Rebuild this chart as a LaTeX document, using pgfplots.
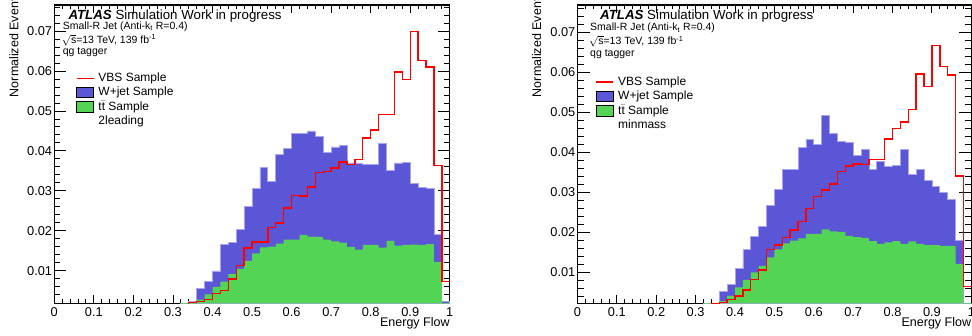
\documentclass[border=0pt]{standalone}
\usepackage{fontspec}
\setmainfont{Liberation Sans}
\usepackage{pgfplots}
\usepackage{pgfplotstable}
\pgfplotsset{compat=1.18}

\definecolor{wjblue}{RGB}{90,86,214}
\definecolor{wjedge}{RGB}{168,165,238}
\definecolor{ttgreen}{RGB}{84,212,84}
\definecolor{vbsred}{RGB}{255,0,0}
\newcommand\fs[1]{\fontsize{#1}{#1}\selectfont}

% columns: bin left edge, W+jet, ttbar, VBS
\pgfplotstableread{
x    b      g      r
0.32 0      0      0
0.34 0.0023 0      0.0021
0.36 0.0056 0.0028 0.0023
0.38 0.0073 0.0041 0.0028
0.40 0.0100 0.0060 0.0043
0.42 0.0167 0.0073 0.0051
0.44 0.0171 0.0092 0.0080
0.46 0.0203 0.0105 0.0113
0.48 0.0262 0.0125 0.0157
0.50 0.0307 0.0144 0.0172
0.52 0.0359 0.0159 0.0172
0.54 0.0323 0.0161 0.0208
0.56 0.0392 0.0168 0.0220
0.58 0.0407 0.0178 0.0257
0.60 0.0443 0.0178 0.0288
0.62 0.0444 0.0190 0.0287
0.64 0.0450 0.0186 0.0310
0.66 0.0436 0.0185 0.0346
0.68 0.0397 0.0178 0.0348
0.70 0.0410 0.0174 0.0357
0.72 0.0413 0.0171 0.0372
0.74 0.0370 0.0160 0.0366
0.76 0.0369 0.0153 0.0378
0.78 0.0367 0.0165 0.0432
0.80 0.0367 0.0165 0.0452
0.82 0.0419 0.0158 0.0491
0.84 0.0352 0.0175 0.0491
0.86 0.0370 0.0163 0.0597
0.88 0.0372 0.0165 0.0578
0.90 0.0319 0.0166 0.0698
0.92 0.0309 0.0165 0.0626
0.94 0.0307 0.0167 0.0610
0.96 0.0191 0.0122 0.0363
0.98 0.0023 0      0.0073
1.00 0.0023 0      0.0073
}\tabL

\pgfplotstableread{
x    b      g      r
0.32 0      0      0
0.34 0      0      0.0022
0.36 0.0052 0.0028 0.0024
0.38 0.0070 0.0041 0.0032
0.40 0.0110 0.0062 0.0041
0.42 0.0156 0.0081 0.0056
0.44 0.0189 0.0100 0.0082
0.46 0.0214 0.0116 0.0106
0.48 0.0268 0.0137 0.0157
0.50 0.0306 0.0157 0.0168
0.52 0.0357 0.0172 0.0187
0.54 0.0357 0.0179 0.0206
0.56 0.0412 0.0185 0.0227
0.58 0.0433 0.0196 0.0260
0.60 0.0420 0.0196 0.0289
0.62 0.0493 0.0207 0.0306
0.64 0.0447 0.0202 0.0321
0.66 0.0428 0.0201 0.0352
0.68 0.0424 0.0191 0.0366
0.70 0.0391 0.0188 0.0371
0.72 0.0407 0.0186 0.0370
0.74 0.0356 0.0178 0.0382
0.76 0.0378 0.0171 0.0382
0.78 0.0364 0.0175 0.0433
0.80 0.0366 0.0178 0.0460
0.82 0.0407 0.0171 0.0476
0.84 0.0345 0.0177 0.0507
0.86 0.0356 0.0171 0.0596
0.88 0.0329 0.0168 0.0564
0.90 0.0314 0.0168 0.0667
0.92 0.0299 0.0166 0.0614
0.94 0.0281 0.0166 0.0593
0.96 0.0179 0.0121 0.0341
0.98 0      0      0.0064
1.00 0      0      0.0064
}\tabR

\pgfplotsset{
  boxlegend/.style={legend image code/.code={\fill[##1] (0pt,-4.6pt) rectangle (17pt,5.6pt);}},
  histax/.style={
    scale only axis, anchor=south west,
    width=395.5pt, height=298.3pt,
    xmin=0, xmax=1,
    xtick={0,0.1,0.2,0.3,0.4,0.5,0.6,0.7,0.8,0.9,1},
    xticklabels={0,0.1,0.2,0.3,0.4,0.5,0.6,0.7,0.8,0.9,1},
    minor xtick={0.02,0.04,0.06,0.08,0.12,0.14,0.16,0.18,0.22,0.24,0.26,0.28,0.32,0.34,0.36,0.38,0.42,0.44,0.46,0.48,0.52,0.54,0.56,0.58,0.62,0.64,0.66,0.68,0.72,0.74,0.76,0.78,0.82,0.84,0.86,0.88,0.92,0.94,0.96,0.98},
    ytick={0.01,0.02,0.03,0.04,0.05,0.06,0.07},
    yticklabels={0.01,0.02,0.03,0.04,0.05,0.06,0.07},
    minor ytick={0.004,0.006,0.008,0.012,0.014,0.016,0.018,0.022,0.024,0.026,0.028,0.032,0.034,0.036,0.038,0.042,0.044,0.046,0.048,0.052,0.054,0.056,0.058,0.062,0.064,0.066,0.068,0.072,0.074,0.076},
    scaled ticks=false,
    tick align=inside, tick pos=both,
    axis line style={line width=1.1pt},
    every tick/.style={line width=0.9pt},
    xtick style={/pgfplots/major tick length=8pt, /pgfplots/minor tick length=4pt},
    ytick style={/pgfplots/major tick length=12pt, /pgfplots/minor tick length=6pt},
    tick label style={font=\fs{12.8}},
    xticklabel style={anchor=north, inner sep=0pt, yshift=-3.7pt},
    yticklabel style={anchor=east, inner sep=0pt, xshift=-2pt},
    xlabel={Energy Flow},
    xlabel style={at={(axis description cs:1,0)}, anchor=base east, inner sep=0pt, yshift=-23.7pt, font=\fs{12.5}},
    legend cell align=left,
    legend style={draw=none, fill=none, inner sep=0pt, outer sep=0pt, anchor=north west,
      font=\fs{12}, row sep=2.9pt,
      nodes={inner sep=0pt, text height=8.6pt, text depth=2.5pt},
      /tikz/every odd column/.append style={column sep=4pt}},
  }
}

\begin{document}
\begin{tikzpicture}
\useasboundingbox (0,0) rectangle (972pt,336pt);

% ---------------- left panel ----------------
\begin{axis}[histax, at={(54.3pt,32.7pt)}, ymin=0.0019, ymax=0.0765,
  legend style={at={(0.0548,0.7717)}}]
\addlegendimage{draw=vbsred, line width=1.4pt}
\addlegendentry{VBS Sample}
\addlegendimage{boxlegend, fill=wjblue}
\addlegendentry{W+jet Sample}
\addlegendimage{boxlegend, fill=ttgreen}
\addlegendentry{t$\bar{\hbox{t}}$ Sample}
\addlegendimage{empty legend}
\addlegendentry{2leading}
\addplot[const plot, fill=wjblue, draw=wjedge, line width=0.8pt, forget plot] table[x=x,y=b]{\tabL} \closedcycle;
\addplot[const plot, fill=ttgreen, draw=none, forget plot] table[x=x,y=g]{\tabL} \closedcycle;
\addplot[const plot, draw=vbsred, line width=1.4pt, forget plot] table[x=x,y=r]{\tabL};
\end{axis}

% ---------------- right panel ----------------
\begin{axis}[histax, at={(577.5pt,32.7pt)}, width=393.8pt, ymin=0.00225, ymax=0.0768,
  legend style={at={(0.0462,0.7606)}, row sep=3.3pt}]
\addlegendimage{draw=vbsred, line width=1.4pt}
\addlegendentry{VBS Sample}
\addlegendimage{boxlegend, fill=wjblue}
\addlegendentry{W+jet Sample}
\addlegendimage{boxlegend, fill=ttgreen}
\addlegendentry{t$\bar{\hbox{t}}$ Sample}
\addlegendimage{empty legend}
\addlegendentry{minmass}
\addplot[const plot, fill=wjblue, draw=wjedge, line width=0.8pt, forget plot] table[x=x,y=b]{\tabR} \closedcycle;
\addplot[const plot, fill=ttgreen, draw=none, forget plot] table[x=x,y=g]{\tabR} \closedcycle;
\addplot[const plot, draw=vbsred, line width=1.4pt, forget plot] table[x=x,y=r]{\tabR};
\end{axis}

% y-axis titles
\node[rotate=90, anchor=east, inner sep=0pt, font=\fs{12.5}] at (14pt,344pt) {Normalized Events};
\node[rotate=90, anchor=east, inner sep=0pt, font=\fs{12.5}] at (536.7pt,344pt) {Normalized Events};

% ATLAS labels, left
\node[anchor=base west, inner sep=0pt, font=\fs{13.3}] at (68.3pt,316.7pt) {\textbf{\textit{ATLAS}} Simulation Work in progress};
\node[anchor=base west, inner sep=0pt, font=\fs{10.5}] at (62.7pt,306.7pt) {Small-R Jet (Anti-k\textsubscript{t} R=0.4)};
\node[anchor=base west, inner sep=0pt, font=\fs{10.5}] at (61.7pt,292.7pt) {$\sqrt{\hbox{s}}$=13 TeV, 139 fb\textsuperscript{-1}};
\node[anchor=base west, inner sep=0pt, font=\fs{10.5}] at (62.7pt,281pt) {qg tagger};

% ATLAS labels, right
\node[anchor=base west, inner sep=0pt, font=\fs{13.3}] at (600pt,316pt) {\textbf{\textit{ATLAS}} Simulation Work in progress};
\node[anchor=base west, inner sep=0pt, font=\fs{10.5}] at (590pt,305pt) {Small-R Jet (Anti-k\textsubscript{t} R=0.4)};
\node[anchor=base west, inner sep=0pt, font=\fs{10.5}] at (589pt,291pt) {$\sqrt{\hbox{s}}$=13 TeV, 139 fb\textsuperscript{-1}};
\node[anchor=base west, inner sep=0pt, font=\fs{10.5}] at (590pt,279.3pt) {qg tagger};
\end{tikzpicture}
\end{document}
